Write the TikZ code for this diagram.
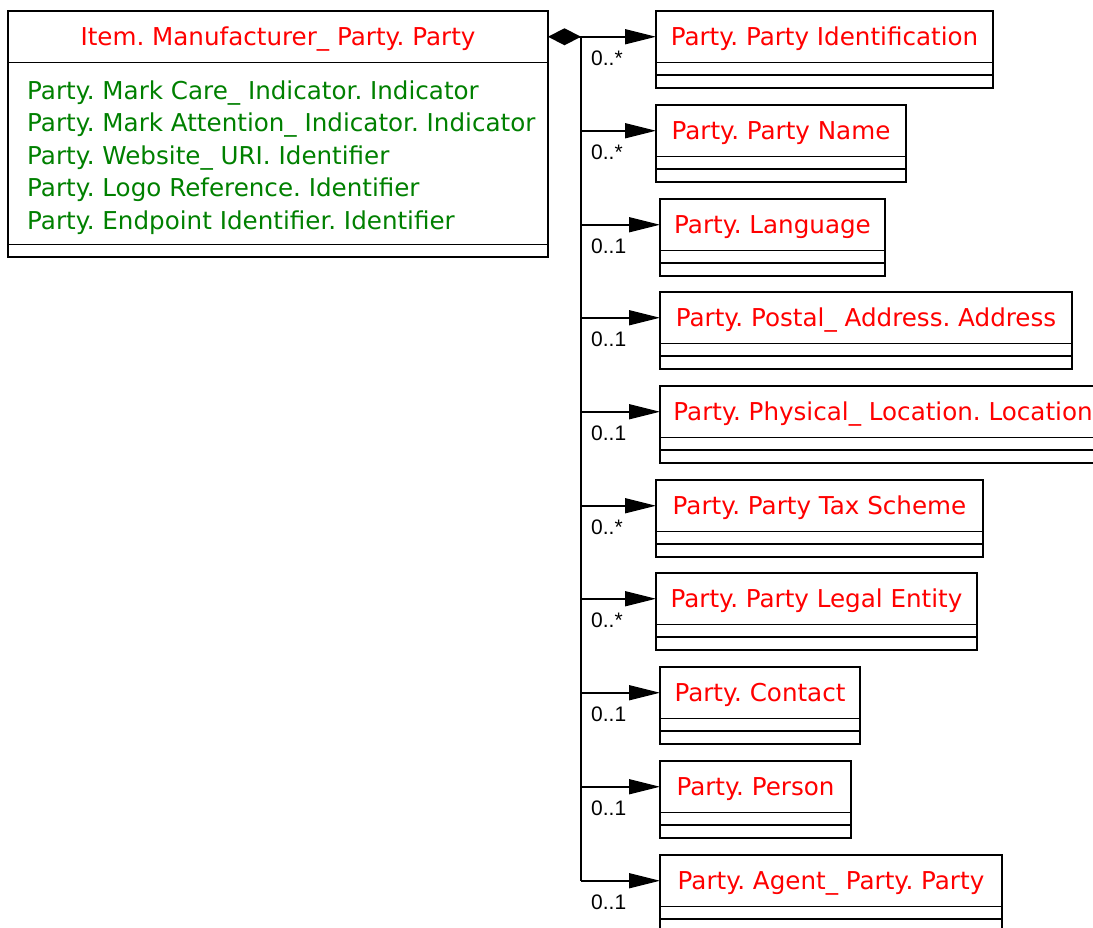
\documentclass[tikz,border=0pt]{standalone}
\usepackage{fontspec}
\setmainfont{DejaVu Sans}
\newfontfamily\carpanfont{Liberation Sans}
\usetikzlibrary{positioning,arrows.meta}
\definecolor{sinifkirmizi}{RGB}{255,0,0}
\definecolor{ozelyesil}{RGB}{0,128,0}
\frenchspacing

\begin{document}
\begin{tikzpicture}[x=1pt,y=1pt,
    baslik/.style={draw, line width=1.5pt, inner sep=0pt, outer sep=0pt, minimum height=51.5pt,
      text=sinifkirmizi, font=\fontsize{24.6}{29}\selectfont, text height=17.8pt, text depth=0pt,
      anchor=north west},
    bolme/.style={draw, line width=1.5pt, inner sep=0pt, outer sep=0pt, minimum height=12.7pt},
    ok/.style={line width=1.5pt, -{Triangle[length=31pt,width=15pt]}},
    carpan/.style={font=\carpanfont\fontsize{21}{24}\selectfont, anchor=west, inner sep=0pt}]
    \useasboundingbox (0,0) rectangle (1093,-927);

    % Ana sinif
    \node[baslik, minimum width=540pt] (kalem) at (8,-11) {Item. Manufacturer\_ Party. Party};
    \node[bolme, minimum width=540pt, minimum height=182pt, below=0pt of kalem] (kalem-a) {};
    \node[bolme, minimum width=540pt, below=0pt of kalem-a] (kalem-o) {};
    \node[anchor=west, inner sep=0pt, text=ozelyesil, font=\fontsize{24.6}{32.5}\selectfont, align=left]
      (ozellik) at ([xshift=19pt,yshift=-4pt]kalem-a.west)
      {Party. Mark Care\_ Indicator. Indicator\\
       Party. Mark Attention\_ Indicator. Indicator\\
       Party. Website\_ URI. Identifier\\
       Party. Logo Reference. Identifier\\
       Party. Endpoint Identifier. Identifier};

    % Baglanti noktasi ve elmas
    \coordinate (bus) at ([xshift=33pt]kalem.east);
    \draw[line width=1.5pt, {Diamond[length=33pt,width=17pt]}-] (kalem.east) -- (bus);

    % Bagli siniflar
    \foreach \ad/\x/\y/\w/\metin/\m in {
        kimlik/656/11/337/Party. Party Identification/0..*,
        isim/656/105/250/Party. Party Name/0..*,
        dil/660/199/225/Party. Language/0..1,
        posta/660/292/412/Party. Postal\_ Address. Address/0..1,
        konum/660/386/446/Party. Physical\_ Location. Location/0..1,
        vergi/656/480/327/Party. Party Tax Scheme/0..*,
        tuzel/656/573/321/Party. Party Legal Entity/0..*,
        iletisim/660/667/200/Party. Contact/0..1,
        kisi/660/761/191/Party. Person/0..1,
        ajan/660/855/342/Party. Agent\_ Party. Party/0..1} {
      \node[baslik, minimum width=\w pt] (\ad) at (\x,-\y) {\metin};
      \node[bolme, minimum width=\w pt, below=0pt of \ad] (\ad-a) {};
      \node[bolme, minimum width=\w pt, below=0pt of \ad-a] (\ad-o) {};
      \draw[ok] (bus |- \ad.west) -- (\ad.west);
      \node[carpan] (\ad-m) at ([xshift=10pt,yshift=-22pt]bus |- \ad.west) {\m};
    }

    % Dikey hat
    \draw[line width=1.5pt] (bus) -- (bus |- ajan.west);
\end{tikzpicture}
\end{document}
